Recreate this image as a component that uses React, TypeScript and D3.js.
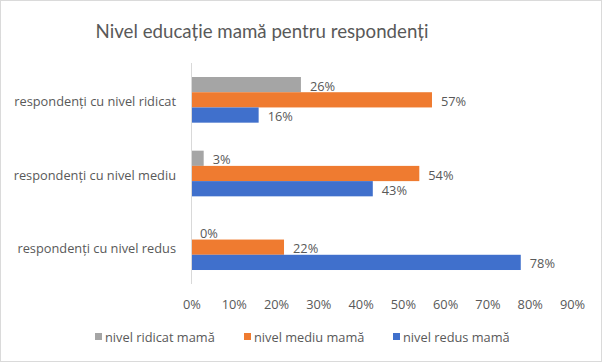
import React, { useRef, useEffect } from 'react';
import * as d3 from 'd3';

const CATEGORIES = ['respondenți cu nivel ridicat', 'respondenți cu nivel mediu', 'respondenți cu nivel redus'];
const SERIES = ['nivel ridicat mamă', 'nivel mediu mamă', 'nivel redus mamă'];
const RIDICAT = [26, 3, 0];
const MEDIU = [57, 54, 22];
const REDUS = [16, 43, 78];
const TICKS = [0, 10, 20, 30, 40, 50, 60, 70, 80, 90];

const COLORS = ['#a5a5a5', '#ef7b30', '#4070cc'];
const TITLE_FONT = 'Lato, "Noto Sans", sans-serif';
const FONT = '"Open Sans", "Noto Sans", sans-serif';
const FS = 12.8;
const TEXT = '#595959';

const App: React.FC = () => {
  const svgRef = useRef<SVGSVGElement>(null);

  useEffect(() => {
    document.body.style.margin = '0';
    if (!svgRef.current) return;
    const W = 602;
    const H = 362;
    const svg = d3.select(svgRef.current);
    svg.selectAll('*').remove();

    const values = [RIDICAT, MEDIU, REDUS];
    const x = d3.scaleLinear().domain([0, 90]).range([191, 571.5]);
    const y = d3.scaleBand().domain(CATEGORIES).range([63, 284]).paddingInner(0.38).paddingOuter(0.19);
    const sub = d3.scaleBand().domain(SERIES).range([0, y.bandwidth()]);

    // border
    svg.append('rect')
      .attr('x', 0.5).attr('y', 0.5).attr('width', W - 1).attr('height', H - 1)
      .attr('fill', '#fff').attr('stroke', '#b4b4b4').attr('stroke-dasharray', '1,1');

    // title
    svg.append('text')
      .attr('x', 262).attr('y', 31)
      .attr('text-anchor', 'middle').attr('dominant-baseline', 'central')
      .attr('font-family', TITLE_FONT).attr('font-size', 18.7).attr('fill', TEXT)
      .text('Nivel educație mamă pentru respondenți');

    // bars
    SERIES.forEach((s, si) => {
      const g = svg.append('g');
      g.selectAll('rect')
        .data(CATEGORIES)
        .join('rect')
        .attr('x', x(0))
        .attr('y', c => y(c)! + sub(s)!)
        .attr('width', (c, i) => x(values[si][i]) - x(0))
        .attr('height', sub.bandwidth())
        .attr('fill', COLORS[si]);
      g.selectAll('text')
        .data(CATEGORIES)
        .join('text')
        .attr('x', (c, i) => x(values[si][i]) + 9)
        .attr('y', c => y(c)! + sub(s)! + sub.bandwidth() / 2 + 1)
        .attr('dominant-baseline', 'central')
        .attr('font-family', FONT).attr('font-size', FS).attr('fill', TEXT)
        .text((c, i) => `${values[si][i]}%`);
    });

    // y axis line
    svg.append('line')
      .attr('x1', x(0) + 0.5).attr('x2', x(0) + 0.5)
      .attr('y1', 63).attr('y2', 284)
      .attr('stroke', '#d9d9d9');

    // category labels
    svg.append('g').selectAll('text')
      .data(CATEGORIES)
      .join('text')
      .attr('x', 176)
      .attr('y', c => y(c)! + y.bandwidth() / 2 + 1)
      .attr('text-anchor', 'end').attr('dominant-baseline', 'central')
      .attr('font-family', FONT).attr('font-size', FS).attr('fill', TEXT)
      .text(c => c);

    // x tick labels
    svg.append('g').selectAll('text')
      .data(TICKS)
      .join('text')
      .attr('x', d => x(d) + 1)
      .attr('y', 304)
      .attr('text-anchor', 'middle').attr('dominant-baseline', 'central')
      .attr('font-family', FONT).attr('font-size', FS).attr('fill', TEXT)
      .text(d => `${d}%`);

    // legend
    const legendX = [95, 244, 393];
    const lg = svg.append('g');
    SERIES.forEach((s, i) => {
      lg.append('rect')
        .attr('x', legendX[i]).attr('y', 333).attr('width', 7).attr('height', 7)
        .attr('fill', COLORS[i]);
      lg.append('text')
        .attr('x', legendX[i] + 10).attr('y', 337)
        .attr('dominant-baseline', 'central')
        .attr('font-family', FONT).attr('font-size', FS).attr('fill', TEXT)
        .text(s);
    });
  }, []);

  return <svg ref={svgRef} width={602} height={362} style={{ display: 'block' }} />;
};

export default App;
